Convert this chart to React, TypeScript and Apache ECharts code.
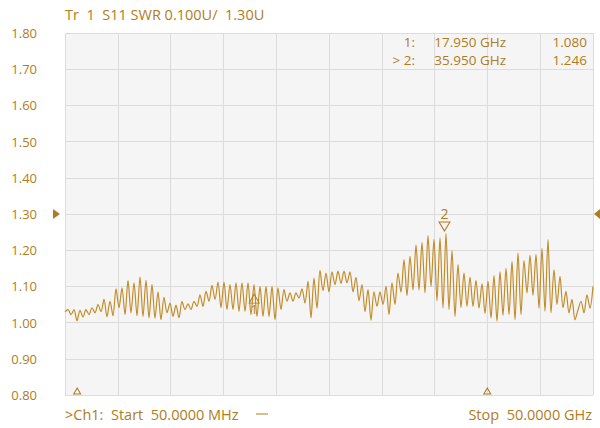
import React, { useEffect, useRef } from "react";
import * as echarts from "echarts";

// Sweep definition (stimulus)
const START_GHZ = 0.05;
const STOP_GHZ = 50;

// SWR trace values (alternating peaks / troughs)
const swr = [
  1.030, 1.036, 1.022, 1.036, 1.005, 1.034, 1.016, 1.036, 1.022, 1.041,
  1.027, 1.050, 1.030, 1.064, 1.016, 1.059, 1.019, 1.093, 1.041, 1.096,
  1.022, 1.116, 1.027, 1.110, 1.019, 1.126, 1.017, 1.117, 1.013, 1.105,
  1.012, 1.085, 1.008, 1.070, 1.027, 1.054, 1.017, 1.048, 1.013, 1.059,
  1.036, 1.052, 1.036, 1.059, 1.045, 1.077, 1.045, 1.086, 1.059, 1.103,
  1.064, 1.112, 1.041, 1.112, 1.036, 1.105, 1.036, 1.110, 1.031, 1.110,
  1.031, 1.110, 1.022, 1.105, 1.017, 1.100, 1.017, 1.100, 1.017, 1.100,
  1.008, 1.096, 1.036, 1.091, 1.059, 1.082, 1.059, 1.082, 1.068, 1.093,
  1.054, 1.114, 1.013, 1.123, 1.040, 1.144, 1.088, 1.137, 1.085, 1.140,
  1.105, 1.142, 1.108, 1.142, 1.110, 1.140, 1.085, 1.125, 1.060, 1.105,
  1.030, 1.091, 1.006, 1.085, 1.045, 1.085, 1.050, 1.100, 1.022, 1.110,
  1.050, 1.137, 1.084, 1.174, 1.075, 1.183, 1.090, 1.215, 1.090, 1.222,
  1.082, 1.240, 1.100, 1.230, 1.060, 1.234, 1.040, 1.246, 1.036, 1.199,
  1.017, 1.160, 1.042, 1.137, 1.045, 1.126, 1.045, 1.117, 1.040, 1.107,
  1.025, 1.114, 1.013, 1.130, 1.004, 1.140, 1.020, 1.150, 1.022, 1.169,
  1.008, 1.193, 1.022, 1.171, 1.082, 1.186, 1.075, 1.188, 1.040, 1.205,
  1.031, 1.229, 1.027, 1.146, 1.050, 1.128, 1.041, 1.086, 1.027, 1.064,
  1.008, 1.035, 1.059, 1.027, 1.077, 1.040, 1.100,
];

// Axis
const Y_MIN = 0.8;
const Y_MAX = 1.8;
const Y_STEP = 0.1;
const REF_LEVEL = 1.3;

// Markers
const markerFreqs = [17.95, 35.95];
const markerValues = [1.08, 1.246];
const markerNames = ["1", "2"];
const edgeMarkFreqs = [1.2, 40.0];

// Texts
const titleText = "Tr  1  S11 SWR 0.100U/  1.30U";
const readoutLabels = ["1:", "> 2:"];
const readoutFreqs = ["17.950 GHz", "35.950 GHz"];
const readoutValues = ["1.080", "1.246"];
const startText = ">Ch1:  Start  50.0000 MHz";
const stopText = "Stop  50.0000 GHz";

const TXT = "#b07c22";
const TRACE = "#c28c28";
const FONT = "'Open Sans', 'Noto Sans', sans-serif";

export default function App() {
  const ref = useRef<HTMLDivElement>(null);
  useEffect(() => {
    document.body.style.margin = "0";
    if (!ref.current) return;
    const chart = echarts.init(ref.current, undefined, { renderer: "svg" });
    const n = swr.length;
    const step = (STOP_GHZ - START_GHZ) / (n - 1);
    const data = swr.map((v, i) => [START_GHZ + i * step, v]);

    const hollow = { color: "rgba(0,0,0,0)", borderColor: TXT, borderWidth: 1 };
    const mpData: any[] = [
      {
        coord: [markerFreqs[0], markerValues[0]],
        symbol: "triangle",
        symbolSize: [10, 9],
        symbolOffset: [0, 5],
        itemStyle: hollow,
        label: { show: true, formatter: markerNames[0], position: "bottom", distance: 0, color: TXT, fontSize: 12, fontFamily: FONT },
      },
      {
        coord: [markerFreqs[1], markerValues[1]],
        symbol: "triangle",
        symbolRotate: 180,
        symbolSize: [11, 9],
        symbolOffset: [0, -7],
        itemStyle: hollow,
        label: { show: true, formatter: markerNames[1], position: "top", distance: 1, color: TXT, fontSize: 14, fontFamily: FONT },
      },
      ...edgeMarkFreqs.map((f) => ({
        coord: [f, Y_MIN],
        symbol: "triangle",
        symbolSize: [7, 6],
        symbolOffset: [0, -4],
        itemStyle: hollow,
        label: { show: false },
      })),
    ];

    const option: any = {
      animation: false,
      grid: {
        left: 65, right: 7, top: 33, bottom: 33,
        show: true, backgroundColor: "#f5f5f5", borderWidth: 0,
      },
      xAxis: [
        {
          type: "value", min: START_GHZ, max: STOP_GHZ,
          show: false, splitLine: { show: false },
        },
        {
          type: "value", min: 0, max: 10, interval: 1,
          axisLine: { show: false }, axisTick: { show: false }, axisLabel: { show: false },
          splitLine: { show: true, lineStyle: { color: "#dcdcdc", width: 1 } },
        },
      ],
      yAxis: {
        type: "value", min: Y_MIN, max: Y_MAX, interval: Y_STEP,
        axisLine: { show: false }, axisTick: { show: false },
        axisLabel: {
          color: TXT, fontSize: 13, fontFamily: FONT, margin: 28,
          formatter: (v: number) => v.toFixed(2),
        },
        splitLine: { show: true, lineStyle: { color: "#dcdcdc", width: 1 } },
      },
      series: [
        {
          type: "line",
          xAxisIndex: 0,
          data,
          showSymbol: false,
          smooth: 0.3,
          lineStyle: { color: TRACE, width: 1.2 },
          markPoint: { silent: true, data: mpData },
          z: 3,
        },
      ],
    };
    chart.setOption(option);

    const yRef = chart.convertToPixel({ yAxisIndex: 0 }, REF_LEVEL) as number;
    const textStyle = (size: number, extra: any) => ({ fill: TXT, font: `${size}px ${FONT}`, ...extra });
    const col = (x: number, lines: string[]) =>
      lines.map((t, i) => ({
        type: "text", x, y: 42 + i * 18,
        style: textStyle(13.5, { text: t, textAlign: "right", textVerticalAlign: "middle" }),
      }));
    chart.setOption({
      graphic: [
        { type: "text", x: 65, y: 14, style: textStyle(14.5, { text: titleText, textVerticalAlign: "middle" }) },
        ...col(415, readoutLabels),
        ...col(506, readoutFreqs),
        ...col(587, readoutValues),
        { type: "text", x: 65, y: 414, style: textStyle(14.5, { text: startText, textVerticalAlign: "middle" }) },
        { type: "line", shape: { x1: 256, y1: 414, x2: 268, y2: 414 }, style: { stroke: TXT, lineWidth: 1 } },
        { type: "text", x: 592, y: 414, style: textStyle(14.5, { text: stopText, textAlign: "right", textVerticalAlign: "middle" }) },
        { type: "polygon", shape: { points: [[53, yRef - 5], [60, yRef], [53, yRef + 5]] }, style: { fill: TXT } },
        { type: "polygon", shape: { points: [[600, yRef - 5], [594, yRef], [600, yRef + 5]] }, style: { fill: TXT } },
      ],
    });

    return () => chart.dispose();
  }, []);
  return <div ref={ref} style={{ width: 600, height: 428 }} />;
}
